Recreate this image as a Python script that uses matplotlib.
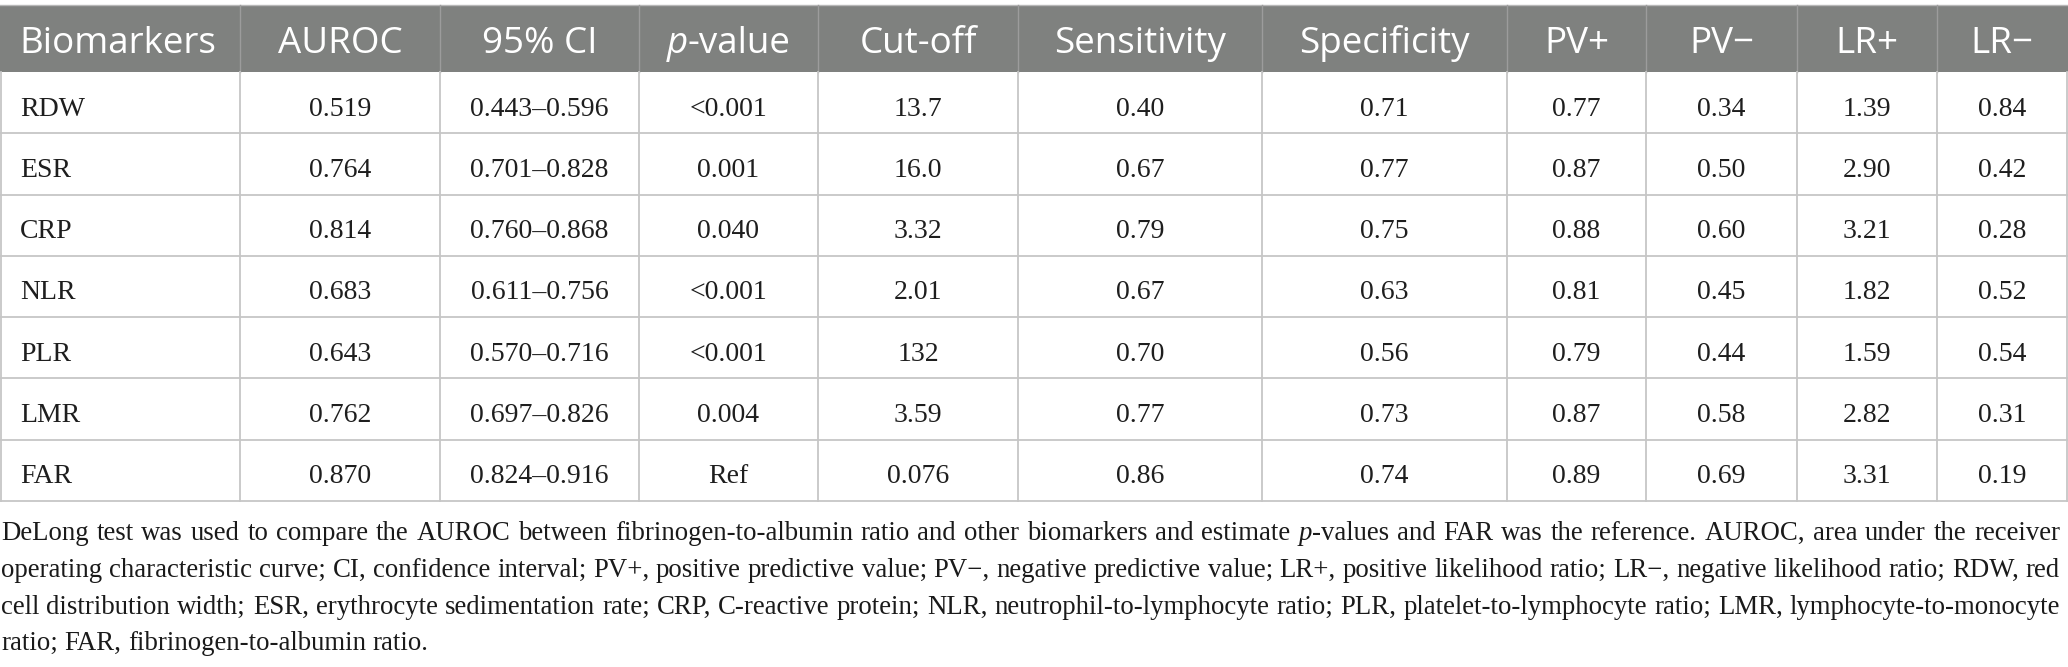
import matplotlib
matplotlib.use("Agg")
import matplotlib.pyplot as plt
from matplotlib.patches import Rectangle

# ---------------- data ----------------
headers = ["Biomarkers", "AUROC", "95% CI", "p-value", "Cut-off", "Sensitivity",
           "Specificity", "PV+", "PV\u2212", "LR+", "LR\u2212"]
biomarkers = ["RDW", "ESR", "CRP", "NLR", "PLR", "LMR", "FAR"]
auroc = ["0.519", "0.764", "0.814", "0.683", "0.643", "0.762", "0.870"]
ci_95 = ["0.443\u20130.596", "0.701\u20130.828", "0.760\u20130.868", "0.611\u20130.756",
         "0.570\u20130.716", "0.697\u20130.826", "0.824\u20130.916"]
p_value = ["<0.001", "0.001", "0.040", "<0.001", "<0.001", "0.004", "Ref"]
cutoff = ["13.7", "16.0", "3.32", "2.01", "132", "3.59", "0.076"]
sensitivity = ["0.40", "0.67", "0.79", "0.67", "0.70", "0.77", "0.86"]
specificity = ["0.71", "0.77", "0.75", "0.63", "0.56", "0.73", "0.74"]
pv_pos = ["0.77", "0.87", "0.88", "0.81", "0.79", "0.87", "0.89"]
pv_neg = ["0.34", "0.50", "0.60", "0.45", "0.44", "0.58", "0.69"]
lr_pos = ["1.39", "2.90", "3.21", "1.82", "1.59", "2.82", "3.31"]
lr_neg = ["0.84", "0.42", "0.28", "0.52", "0.54", "0.31", "0.19"]

caption_lines = [
    "DeLong test was used to compare the AUROC between fibrinogen-to-albumin ratio and other biomarkers and estimate *p*-values and FAR was the reference. AUROC, area under the receiver",
    "operating characteristic curve; CI, confidence interval; PV+, positive predictive value; PV\u2212, negative predictive value; LR+, positive likelihood ratio; LR\u2212, negative likelihood ratio; RDW, red",
    "cell distribution width; ESR, erythrocyte sedimentation rate; CRP, C-reactive protein; NLR, neutrophil-to-lymphocyte ratio; PLR, platelet-to-lymphocyte ratio; LMR, lymphocyte-to-monocyte",
    "ratio; FAR, fibrinogen-to-albumin ratio.",
]

columns = [biomarkers, auroc, ci_95, p_value, cutoff, sensitivity, specificity,
           pv_pos, pv_neg, lr_pos, lr_neg]

# ---------------- layout ----------------
W, H = 2068, 667
col_edges = [0, 240, 440, 639, 818, 1018, 1262, 1507, 1646, 1797, 1937, 2067]
header_top, header_bot = 5, 72
row_h = (501 - header_bot) / len(biomarkers)

HEADER_BG = "#7f817f"
GRID = "#c6c6c6"
TEXT = "#1e1e1e"
SANS = ["Open Sans", "DejaVu Sans"]
SERIF = ["Liberation Serif", "DejaVu Serif"]

fig = plt.figure(figsize=(W / 100, H / 100), dpi=100)
ax = fig.add_axes([0, 0, 1, 1])
ax.set_xlim(0, W)
ax.set_ylim(H, 0)
ax.axis("off")
renderer = fig.canvas.get_renderer()


def tw(obj):
    return obj.get_window_extent(renderer).width


def seg_width(text, style, **kw):
    t = ax.text(0, 0, text, fontstyle=style, **kw)
    w = tw(t)
    t.remove()
    return w


def parse_word(word):
    segs = []
    parts = word.split("*")
    for i, p in enumerate(parts):
        if p:
            segs.append((p, "italic" if i % 2 == 1 else "normal"))
    return segs


def draw_segs(x, y, segs, **kw):
    cur = x
    for text, style in segs:
        t = ax.text(cur, y, text, fontstyle=style, ha="left", va="baseline", **kw)
        cur += tw(t)
    return cur


# header background
ax.add_patch(Rectangle((0, header_top), W, header_bot - header_top,
                       facecolor=HEADER_BG, edgecolor="none", zorder=0))
ax.plot([0, W], [header_top, header_top], color="#b8b8b8", lw=1.0, zorder=1)

# header texts
hdr_kw = dict(family=SANS, fontsize=26.5, color="white")
for j, h in enumerate(headers):
    segs = parse_word("*p*-value" if h == "p-value" else h)
    total = sum(seg_width(t, s, **hdr_kw) for t, s in segs)
    if j == 0:
        x0 = 19
    else:
        x0 = (col_edges[j] + col_edges[j + 1]) / 2 - total / 2
    draw_segs(x0, header_top + 48, segs, **hdr_kw)

for x in col_edges[1:-1]:
    ax.plot([x, x], [header_top, header_bot], color="#9c9c9c", lw=1.0, zorder=1)

# body
body_kw = dict(family=SERIF, fontsize=20, color=TEXT)
for i in range(len(biomarkers)):
    top = header_bot + i * row_h
    base = top + 43.5
    for j, col in enumerate(columns):
        if j == 0:
            ax.text(20, base, col[i], ha="left", va="baseline", **body_kw)
        else:
            ax.text((col_edges[j] + col_edges[j + 1]) / 2, base, col[i],
                    ha="center", va="baseline", **body_kw)

# grid lines
table_bot = header_bot + len(biomarkers) * row_h
for i in range(1, len(biomarkers) + 1):
    y = header_bot + i * row_h
    ax.plot([0, W], [y, y], color=GRID, lw=1.3, zorder=2)
for x in [col_edges[0] + 0.7] + col_edges[1:-1] + [col_edges[-1]]:
    ax.plot([x, x], [header_bot, table_bot], color=GRID, lw=1.3, zorder=2)

# caption (justified)
cap_kw = dict(family=SERIF, fontsize=20.8, color="#1a1a1a")
left, right = 1, 2060
baselines = [540, 577, 614, 650]


def line_words(line, kw):
    words = [parse_word(w) for w in line.split(" ")]
    widths = [sum(seg_width(t, s, **kw) for t, s in segs) for segs in words]
    return words, widths


space_w = seg_width("a a", "normal", **cap_kw) - seg_width("aa", "normal", **cap_kw)
max_nat = 0
for line in caption_lines[:3]:
    _, ws = line_words(line, cap_kw)
    max_nat = max(max_nat, sum(ws) + space_w * (len(ws) - 1))
if max_nat > (right - left) * 0.995:
    cap_kw["fontsize"] *= (right - left) * 0.995 / max_nat
    space_w = seg_width("a a", "normal", **cap_kw) - seg_width("aa", "normal", **cap_kw)

for k, line in enumerate(caption_lines):
    words, widths = line_words(line, cap_kw)
    if k < len(caption_lines) - 1:
        gap = (right - left - sum(widths)) / (len(words) - 1)
    else:
        gap = space_w
    x = left
    for segs, w in zip(words, widths):
        draw_segs(x, baselines[k], segs, **cap_kw)
        x += w + gap

fig.savefig("out.png", dpi=100)
